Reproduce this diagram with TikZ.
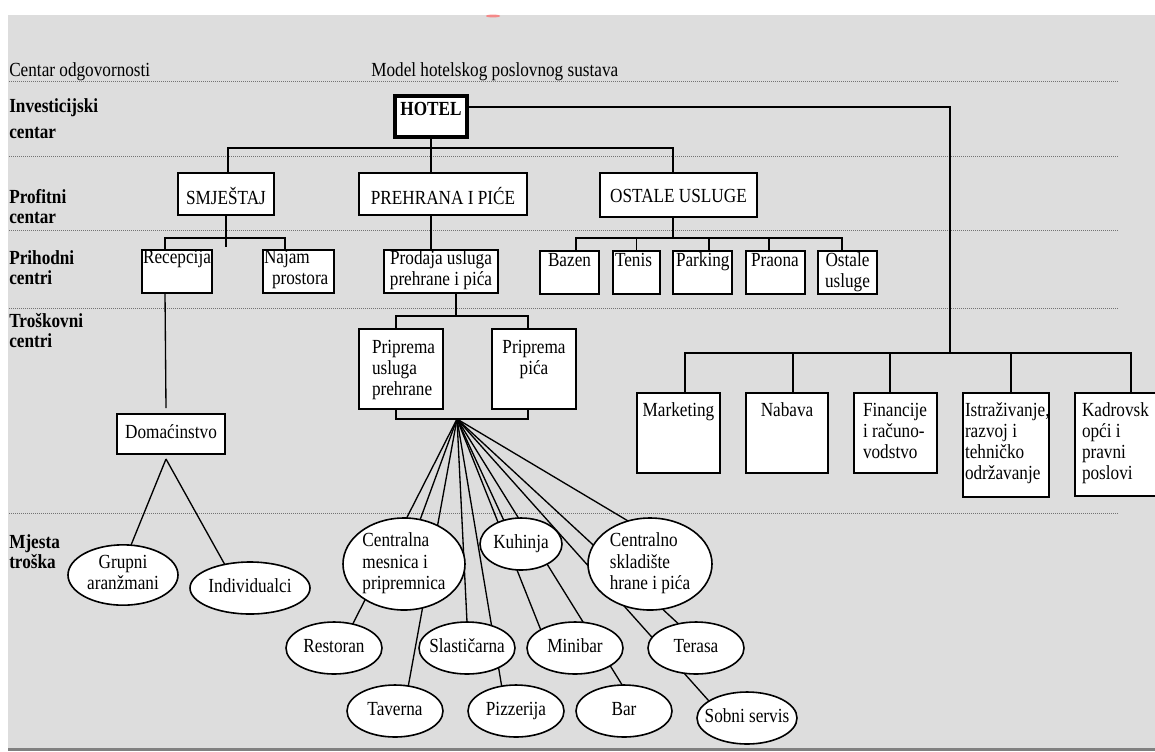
\documentclass[tikz,border=0pt]{standalone}
\usepackage{fontspec}
\setmainfont{Liberation Serif}[FakeStretch=0.86]
\usetikzlibrary{shapes.geometric}
\pgfdeclarelayer{bg}\pgfdeclarelayer{edges}\pgfsetlayers{bg,edges,main}
\newdimen\pxu \pxu=0.75pt
\newcommand{\bt}[5]{\parbox[c][#2\pxu][t]{#1\pxu}{\hyphenpenalty=10000\exhyphenpenalty=10000\vspace*{\dimexpr#3\pxu-13\pxu\relax}#4\rule{0pt}{13\pxu}#5\par}}
\newcommand{\et}[2]{\makebox[0pt]{\begin{tabular}{@{}#1@{}}#2\end{tabular}}}
\definecolor{bgc}{RGB}{221,221,221}
\definecolor{sepc}{RGB}{115,115,115}
\begin{document}
\begin{tikzpicture}[x=0.75pt,y=-0.75pt,
  every node/.style={font=\fontsize{15pt}{15.75pt}\selectfont},
  bx/.style={draw, fill=white, line width=1.4pt, inner sep=0pt, outer sep=0pt},
  el/.style={ellipse, draw, fill=white, line width=1.2pt, inner sep=0pt, outer sep=0pt, font=\fontsize{15pt}{16pt}\selectfont},
  con/.style={line width=1pt},
  sepl/.style={draw=sepc, line width=0.75pt, dash pattern=on 0.8pt off 0.7pt},
  lab/.style={anchor=west, align=left, inner sep=0pt, font=\fontsize{15pt}{15pt}\selectfont\bfseries},
  hdr/.style={anchor=base west, inner sep=0pt}]
\useasboundingbox (0,0) rectangle (1155,751);
\clip (0,0) rectangle (1155,751);

% background
\begin{pgfonlayer}{bg}
\fill[bgc] (8,15) rectangle (1155,748);
\fill[black!50] (8,748) rectangle (1155,751);
\fill[red!60, opacity=0.7] (493,16) ellipse [x radius=5.25pt, y radius=1.1pt];
\foreach \yy in {81,156,230,308,513} \draw[sepl] (9,\yy) -- (1118,\yy);
\end{pgfonlayer}

% headers and row labels
\node[hdr] (h1) at (9,76) {Centar odgovornosti};
\node[hdr] (h2) at (371,76) {Model hotelskog poslovnog sustava};
\node[lab, font=\fontsize{15pt}{19.5pt}\selectfont\bfseries] (l1) at (9,118.5) {Investicijski\\centar};
\node[lab] (l2) at (9,206.5) {Profitni\\centar};
\node[lab] (l3) at (9,267.5) {Prihodni\\centri};
\node[lab] (l4) at (9,330.5) {Troškovni\\centri};
\node[lab] (l5) at (9,551.5) {Mjesta\\troška};

% boxes
\node[bx, line width=2.4pt] (hotel) at (431,116.5) {\bt{72}{41}{19}{\centering\bfseries}{HOTEL}};
\node[bx] (smj) at (226,194) {\bt{96}{42}{27}{\centering}{SMJEŠTAJ}};
\node[bx] (pre) at (443,194) {\bt{168}{42}{27}{\centering}{PREHRANA I PIĆE}};
\node[bx] (ost) at (678.5,195) {\bt{157}{44}{29}{\centering}{OSTALE USLUGE}};
\node[bx] (rec) at (177,271.5) {\bt{70}{43}{13}{\centering}{Recepcija}};
\node[bx] (naj) at (298.5,271.5) {\bt{71}{43}{13}{\raggedright\leftskip=1\pxu}{Najam\\\hspace*{8\pxu}prostora}};
\node[bx] (pro) at (441,271.5) {\bt{114}{43}{14}{\centering}{Prodaja usluga\\prehrane i pića}};
\node[bx] (baz) at (569.5,272.5) {\bt{59}{43}{15}{\centering}{Bazen}};
\node[bx] (ten) at (636.5,272.5) {\bt{47}{43}{15}{\raggedright\leftskip=2\pxu}{Tenis}};
\node[bx] (par) at (702.5,272.5) {\bt{59}{43}{15}{\raggedright\leftskip=3\pxu}{Parking}};
\node[bx] (pra) at (775.5,272.5) {\bt{59}{43}{15}{\raggedright\leftskip=5\pxu}{Praona}};
\node[bx] (osu) at (847.5,272.5) {\bt{59}{43}{15}{\centering}{Ostale\\usluge}};
\node[bx] (pp1) at (401,369) {\bt{84}{80}{24}{\raggedright\leftskip=13\pxu}{Priprema\\usluga\\prehrane}};
\node[bx] (pp2) at (534,369) {\bt{84}{80}{24}{\centering}{Priprema\\pića}};
\node[bx] (dom) at (171,434) {\bt{108}{40}{24}{\centering}{Domaćinstvo}};
\node[bx] (mkt) at (678.5,433) {\bt{83}{80}{23}{\centering}{Marketing}};
\node[bx] (nab) at (787,433) {\bt{82}{80}{23}{\centering}{Nabava}};
\node[bx] (fin) at (895.5,433) {\bt{83}{80}{23}{\raggedright\leftskip=9\pxu}{Financije\\i računo-\\vodstvo}};
\node[bx] (ist) at (1006,445) {\bt{86}{104}{23}{\raggedright\leftskip=2\pxu}{Istraživanje,\\razvoj i\\tehničko\\održavanje}};
\node[bx] (kad) at (1125,444.5) {\bt{100}{103}{23}{\raggedright\leftskip=7\pxu}{Kadrovsk\\opći i\\pravni\\poslovi}};

% ellipses
\node[el, minimum width=110\pxu, minimum height=54\pxu] (grp) at (123,575) {\et{c}{Grupni\\aranžmani}};
\node[el, minimum width=120\pxu, minimum height=52\pxu] (ind) at (250,588) {\et{c}{Individualci}};
\node[el, minimum width=122\pxu, minimum height=92\pxu] (cen) at (404,564) {\et{l}{Centralna\\mesnica i\\pripremnica}};
\node[el, minimum width=82\pxu, minimum height=52\pxu] (kuh) at (521,544) {\et{c}{Kuhinja}};
\node[el, minimum width=124\pxu, minimum height=92\pxu] (cso) at (650,564) {\et{l}{Centralno\\skladište\\hrane i pića}};
\node[el, minimum width=96\pxu, minimum height=52\pxu] (res) at (334,648) {\et{c}{Restoran}};
\node[el, minimum width=96\pxu, minimum height=52\pxu] (sla) at (467,648) {\et{c}{Slastičarna}};
\node[el, minimum width=96\pxu, minimum height=52\pxu] (mnb) at (575,648) {\et{c}{Minibar}};
\node[el, minimum width=96\pxu, minimum height=52\pxu] (ter) at (696,648) {\et{c}{Terasa}};
\node[el, minimum width=96\pxu, minimum height=52\pxu] (tav) at (395,711) {\et{c}{Taverna}};
\node[el, minimum width=96\pxu, minimum height=52\pxu] (piz) at (516,711) {\et{c}{Pizzerija}};
\node[el, minimum width=96\pxu, minimum height=52\pxu] (bar) at (624,711) {\et{c}{Bar}};
\node[el, minimum width=100\pxu, minimum height=52\pxu] (sob) at (747,718) {\et{c}{Sobni servis}};

% connectors
\begin{pgfonlayer}{edges}
\coordinate (b1) at (431,148);
\coordinate (sup) at (950,353);
\coordinate (b3) at (673,238);
\coordinate (F) at (457,419);
\coordinate (d0) at (166,459);
\draw[con] (hotel.south) -- (b1);
\draw[con] (b1) -| ([xshift=2\pxu]smj.north);
\draw[con] (b1) -- (b1 |- pre.north);
\draw[con] (b1) -| ([xshift=-5.5\pxu]ost.north);
\draw[con] ([yshift=9.5\pxu]hotel.east) -| (sup);
\draw[con] ([xshift=6.5\pxu]mkt.north) |- (sup);
\draw[con] ([xshift=6\pxu]nab.north) |- (sup);
\draw[con] ([xshift=-5.5\pxu]fin.north) |- (sup);
\draw[con] ([xshift=5\pxu]ist.north) |- (sup);
\draw[con] ([xshift=6\pxu]kad.north) |- (sup);
\draw[con] (smj.south) -- ++(0,32);
\draw[con] ([xshift=-12\pxu]rec.north) -- ++(0,-12) -| ([xshift=-13.5\pxu]naj.north);
\draw[con] (b1 |- pre.south) -- (b1 |- pro.north);
\draw[con] (b3 |- ost.south) -- (b3);
\draw[con] ([xshift=6.5\pxu]baz.north) -- ++(0,-13) -| ([xshift=-5.5\pxu]osu.north);
\draw[con] (ten.north) -- ++(0,-13);
\draw[con] ([xshift=6.5\pxu]par.north) -- ++(0,-13);
\draw[con] ([xshift=-6.5\pxu]pra.north) -- ++(0,-13);
\draw[con] ([xshift=15\pxu]pro.south) -- ++(0,23);
\draw[con] ([xshift=-5\pxu]pp1.north) -- ++(0,-13) -| ([xshift=-6\pxu]pp2.north);
\draw[con] ([xshift=-5\pxu]pp1.south) -- ++(0,10) -| ([xshift=-6\pxu]pp2.south);
\draw[con] ([xshift=-12\pxu]rec.south) -- ([xshift=-5\pxu,yshift=6\pxu]dom.north);
\draw[con] (d0) -- (grp.75);
\draw[con] (d0) -- (ind.137);
\draw[con] (F) -- (res.52);
\draw[con] (F) -- (cen.70);
\draw[con] (F) -- (tav.62);
\draw[con] (F) -- (sla.north);
\draw[con] (F) -- (piz.120);
\draw[con] (F) -- (kuh.126);
\draw[con] (F) -- (mnb.152);
\draw[con] (F) -- (bar.94);
\draw[con] (F) -- (cso.117);
\draw[con] (F) -- (ter.126);
\draw[con] (F) -- (sob.156);
\end{pgfonlayer}
\end{tikzpicture}
\end{document}
